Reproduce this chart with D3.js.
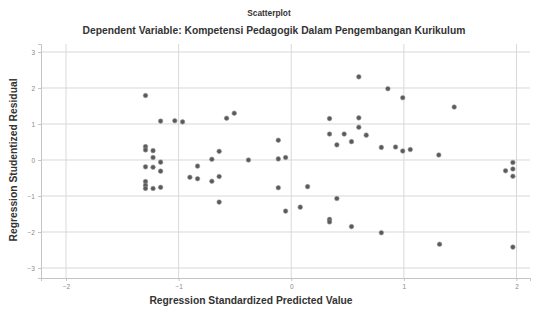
<!DOCTYPE html>
<html><head><meta charset="utf-8">
<script src="https://cdn.jsdelivr.net/npm/d3@7"></script>
<style>body{margin:0;background:#fff}svg{display:block}</style>
</head><body>
<script>
const predicted = [-1.294,-1.16,-1.034,-0.965,-0.574,-0.506,-1.294,-1.294,-1.227,-1.227,-1.16,-1.294,-1.227,-1.16,-1.294,-1.294,-1.294,-1.227,-1.16,-0.64,-0.705,-0.38,-0.832,-0.90,-0.832,-0.64,-0.705,-0.64,0.60,0.858,0.99,0.34,0.60,0.60,0.34,0.47,0.666,0.535,0.405,-0.115,0.80,0.926,0.99,1.057,1.31,-0.115,-0.05,-0.115,0.145,0.405,-0.05,0.08,0.34,0.34,0.535,0.80,1.447,1.968,1.968,1.903,1.968,1.317,1.968];
const residual = [1.79,1.08,1.09,1.06,1.16,1.30,0.37,0.28,0.26,0.07,-0.06,-0.19,-0.2,-0.31,-0.6,-0.7,-0.79,-0.79,-0.76,0.24,0.02,0.0,-0.17,-0.48,-0.52,-0.46,-0.59,-1.17,2.31,1.98,1.73,1.15,1.17,0.91,0.72,0.72,0.69,0.51,0.42,0.55,0.35,0.36,0.25,0.29,0.14,0.03,0.07,-0.77,-0.74,-1.07,-1.42,-1.31,-1.65,-1.72,-1.85,-2.02,1.47,-0.07,-0.25,-0.30,-0.45,-2.34,-2.42];
const xTicks = [-2,-1,0,1,2];
const yTicks = [-3,-2,-1,0,1,2,3];
const title = "Scatterplot";
const subtitle = "Dependent Variable: Kompetensi Pedagogik Dalam Pengembangan Kurikulum";
const xTitle = "Regression Standardized Predicted Value";
const yTitle = "Regression Studentized Residual";

const W = 533, H = 316;
const L = 41, R = 530, T = 44, B = 278;
const svg = d3.select("body").append("svg").attr("width", W).attr("height", H);
const x = d3.scaleLinear().domain([-2.222, 2.12]).range([L, R]);
const y = d3.scaleLinear().domain([-3.278, 3.222]).range([B, T]);
const font = "'Liberation Sans', Arial, sans-serif";

// gridlines
svg.append("g").selectAll("line").data(xTicks).join("line")
  .attr("x1", d => x(d)).attr("x2", d => x(d)).attr("y1", T).attr("y2", B)
  .attr("stroke", "#d9d9d9").attr("stroke-width", 1);
svg.append("g").selectAll("line").data(yTicks).join("line")
  .attr("x1", L).attr("x2", R).attr("y1", d => y(d)).attr("y2", d => y(d))
  .attr("stroke", "#d9d9d9").attr("stroke-width", 1);

// axes
const xAxis = svg.append("g").attr("transform", `translate(0,${B})`)
  .call(d3.axisBottom(x).tickValues(xTicks).tickSize(3).tickFormat(d3.format("d")));
const yAxis = svg.append("g").attr("transform", `translate(${L},0)`)
  .call(d3.axisLeft(y).tickValues(yTicks).tickSize(3).tickFormat(d3.format("d")));
[xAxis, yAxis].forEach(g => {
  g.select(".domain").attr("stroke", "#c4c4c4");
  g.selectAll(".tick line").attr("stroke", "#c4c4c4");
  g.selectAll(".tick text").attr("fill", "#888").attr("font-size", 6.5).attr("font-family", font);
});

// points
svg.append("g").selectAll("circle").data(predicted.map((p, i) => [p, residual[i]])).join("circle")
  .attr("cx", d => x(d[0])).attr("cy", d => y(d[1])).attr("r", 2.3)
  .attr("fill", "#5a5a5a").attr("stroke", "#999").attr("stroke-width", 0.6);

// titles
const tstyle = (s, size) => s.attr("text-anchor", "middle").attr("font-family", font)
  .attr("font-weight", "bold").attr("font-size", size).attr("fill", "#333");
tstyle(svg.append("text").attr("x", 269).attr("y", 16), 8.3).text(title);
tstyle(svg.append("text").attr("x", 274).attr("y", 34), 10.3).text(subtitle);
tstyle(svg.append("text").attr("x", 251).attr("y", 304), 10.3).text(xTitle);
tstyle(svg.append("text").attr("transform", "translate(17,160) rotate(-90)"), 10.3).text(yTitle);
</script>
</body></html>
